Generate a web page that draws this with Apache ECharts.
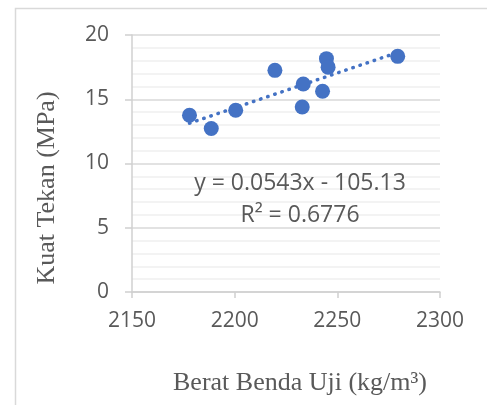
<!DOCTYPE html>
<html>
<head>
<meta charset="utf-8">
<script src="https://cdn.jsdelivr.net/npm/echarts@6/dist/echarts.min.js"></script>
<style>
  html, body { margin: 0; padding: 0; background: #fff; }
  #main { width: 487px; height: 405px; }
</style>
</head>
<body>
<div id="main"></div>
<script>
// berat benda uji (kg/m3) vs kuat tekan (MPa)
var beratBenda = [2178, 2188.6, 2200.5, 2219.6, 2233.4, 2232.9, 2242.8, 2244.7, 2245.5, 2279.4];
var kuatTekan = [13.75, 12.72, 14.14, 17.25, 16.19, 14.4, 15.62, 18.16, 17.5, 18.34];

// linear trendline from the chart
var SLOPE = 0.0543;
var INTERCEPT = -105.13;
var eqText = 'y = 0.0543x - 105.13';
var r2Text = 'R² = 0.6776';
var xTitle = 'Berat Benda Uji (kg/m³)';
var yTitle = 'Kuat Tekan (MPa)';

var xTicks = { min: 2150, max: 2300, step: 50 };
var yTicks = { min: 0, max: 20, step: 5 };

var points = [];
for (var i = 0; i < beratBenda.length; i++) {
    points.push([beratBenda[i], kuatTekan[i]]);
}
var xLo = Math.min.apply(null, beratBenda);
var xHi = Math.max.apply(null, beratBenda);
var trend = [[xLo, SLOPE * xLo + INTERCEPT], [xHi, SLOPE * xHi + INTERCEPT]];

var BLUE = '#4472C4';
var GRAY_TEXT = '#595959';
var NUM_FONT = 'Open Sans';

var myChart = echarts.init(document.getElementById('main'));

var option = {
    animation: false,
    grid: {
        left: 132,
        right: 47,
        top: 35,
        bottom: 113
    },
    xAxis: {
        type: 'value',
        min: xTicks.min,
        max: xTicks.max,
        interval: xTicks.step,
        axisLine: { show: true, lineStyle: { color: '#d0d0d0', width: 1.5 } },
        axisTick: { show: true, length: 6, lineStyle: { color: '#d0d0d0', width: 1.5 } },
        axisLabel: {
            fontFamily: NUM_FONT,
            fontSize: 21,
            color: GRAY_TEXT,
            margin: 19,
            formatter: function (v) { return String(v); }
        },
        splitLine: { show: false }
    },
    yAxis: {
        type: 'value',
        min: yTicks.min,
        max: yTicks.max,
        interval: yTicks.step,
        axisLine: { show: true, lineStyle: { color: '#d0d0d0', width: 1.5 } },
        axisTick: { show: true, length: 7, lineStyle: { color: '#d0d0d0', width: 1.5 } },
        axisLabel: {
            fontFamily: NUM_FONT,
            fontSize: 21,
            color: GRAY_TEXT,
            margin: 23
        },
        splitLine: { show: true, lineStyle: { color: '#d9d9d9', width: 1.5 } },
        minorTick: { show: false, splitNumber: 5 },
        minorSplitLine: { show: true, lineStyle: { color: '#efefef', width: 1.5 } }
    },
    graphic: [
        {
            type: 'rect',
            left: 13,
            top: 6,
            shape: { width: 490, height: 420 },
            style: { fill: 'none', stroke: '#d9d9d9', lineWidth: 1.5 },
            silent: true
        },
        {
            type: 'text',
            x: 300,
            y: 183,
            z: 100,
            style: {
                text: eqText,
                font: '23px "Open Sans"',
                fill: GRAY_TEXT,
                align: 'center',
                verticalAlign: 'middle'
            }
        },
        {
            type: 'text',
            x: 300,
            y: 215,
            z: 100,
            style: {
                text: r2Text,
                font: '23px "Open Sans"',
                fill: GRAY_TEXT,
                align: 'center',
                verticalAlign: 'middle'
            }
        },
        {
            type: 'text',
            x: 300,
            y: 383,
            z: 100,
            style: {
                text: xTitle,
                font: '26px "Liberation Serif"',
                fill: GRAY_TEXT,
                align: 'center',
                verticalAlign: 'middle'
            }
        },
        {
            type: 'text',
            x: 47,
            y: 188,
            rotation: Math.PI / 2,
            z: 100,
            style: {
                text: yTitle,
                font: '26px "Liberation Serif"',
                fill: GRAY_TEXT,
                align: 'center',
                verticalAlign: 'middle'
            }
        }
    ],
    series: [
        {
            type: 'line',
            data: trend,
            symbol: 'none',
            z: 3,
            lineStyle: {
                color: BLUE,
                width: 3.5,
                type: [0.5, 7],
                cap: 'round'
            }
        },
        {
            type: 'scatter',
            data: points,
            symbol: 'circle',
            symbolSize: 15,
            z: 4,
            itemStyle: { color: BLUE, opacity: 1 }
        }
    ]
};

myChart.setOption(option);
</script>
</body>
</html>
